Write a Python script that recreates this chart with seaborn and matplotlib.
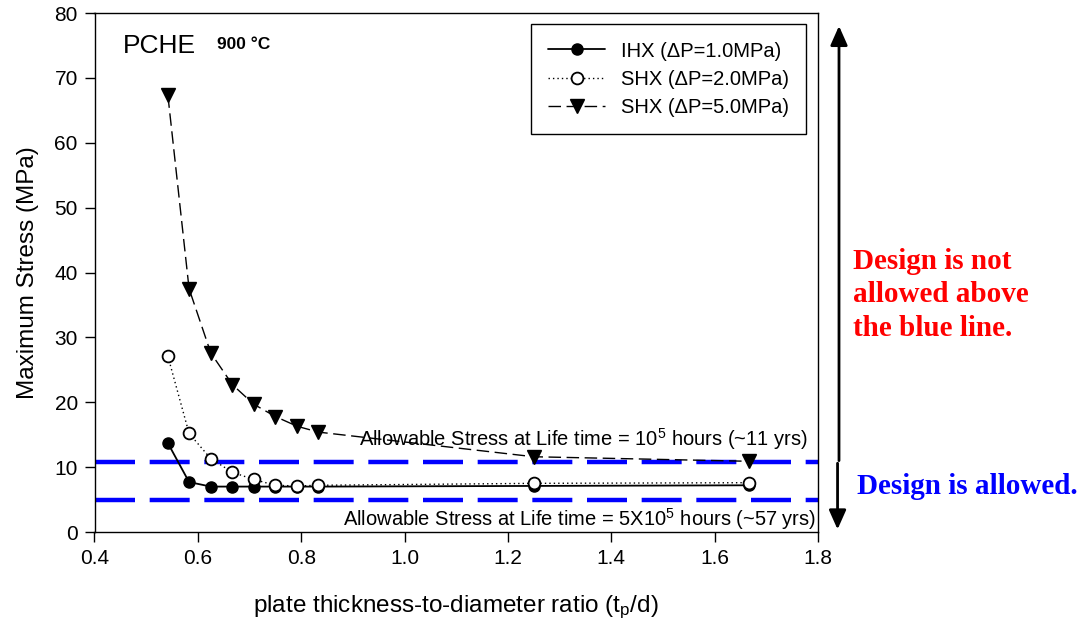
import matplotlib
matplotlib.use("Agg")
import matplotlib.pyplot as plt
import seaborn as sns

# ---- data ----
ratio = [0.542, 0.583, 0.625, 0.667, 0.708, 0.750, 0.792, 0.833, 1.250, 1.667]
ihx_1MPa = [13.7, 7.7, 7.0, 7.0, 7.0, 7.0, 7.0, 7.0, 7.1, 7.2]
shx_2MPa = [27.1, 15.2, 11.3, 9.2, 8.1, 7.2, 7.1, 7.2, 7.5, 7.6]
shx_5MPa = [67.3, 37.5, 27.6, 22.7, 19.7, 17.8, 16.3, 15.4, 11.6, 10.9]
allow_1e5 = 10.8
allow_5e5 = 4.9
labels = ["IHX (\u0394P=1.0MPa)", "SHX (\u0394P=2.0MPa)", "SHX (\u0394P=5.0MPa)"]
xticks = [0.4, 0.6, 0.8, 1.0, 1.2, 1.4, 1.6, 1.8]
yticks = [0, 10, 20, 30, 40, 50, 60, 70, 80]

sns.set_style("ticks")
plt.rcParams["font.family"] = ["Liberation Sans", "DejaVu Sans"]
plt.rcParams["text.color"] = "black"
plt.rcParams["axes.labelcolor"] = "black"
plt.rcParams["xtick.color"] = "black"
plt.rcParams["ytick.color"] = "black"
plt.rcParams["mathtext.fontset"] = "custom"
plt.rcParams["mathtext.rm"] = "Liberation Sans"
plt.rcParams["mathtext.it"] = "Liberation Sans:italic"
plt.rcParams["mathtext.bf"] = "Liberation Sans:bold"

fig = plt.figure(figsize=(10.9, 6.26), dpi=100)
ax = fig.add_axes([94.5 / 1090, 1 - 532 / 626, (818 - 94.5) / 1090, (532 - 13) / 626])

sns.lineplot(x=ratio, y=ihx_1MPa, ax=ax, color="black", linestyle="-", lw=1.3,
             marker="o", markersize=8, markerfacecolor="black",
             markeredgecolor="black", markeredgewidth=1, label=labels[0], zorder=3)
sns.lineplot(x=ratio, y=shx_2MPa, ax=ax, color="black", linestyle=(0, (1, 2.2)), lw=1.0,
             marker="o", markersize=8.5, markerfacecolor="white",
             markeredgecolor="black", markeredgewidth=1.3, label=labels[1], zorder=4)
sns.lineplot(x=ratio, y=shx_5MPa, ax=ax, color="black", linestyle=(0, (9, 4)), lw=1.0,
             marker="v", markersize=10, markerfacecolor="black",
             markeredgecolor="black", markeredgewidth=1, label=labels[2], zorder=5)

for yv in (allow_1e5, allow_5e5):
    ax.axhline(yv, color="#0000ff", lw=3.2, linestyle=(0, (9, 3.3)), zorder=2)

ax.set_xlim(0.4, 1.8)
ax.set_ylim(0, 80)
ax.set_xticks(xticks)
ax.set_xticklabels([f"{t:.1f}" for t in xticks])
ax.set_yticks(yticks)
ax.tick_params(axis="both", direction="out", length=7, width=1, labelsize=15,
               colors="black", pad=5)
for s in ax.spines.values():
    s.set_visible(True)
    s.set_color("black")
    s.set_linewidth(1.0)

ax.set_xlabel("plate thickness-to-diameter ratio ($\\mathregular{t_p}$/d)", fontsize=17.5, labelpad=19)
ax.set_ylabel("Maximum Stress (MPa)", fontsize=17.5, labelpad=11)

leg = ax.legend(loc="upper right", bbox_to_anchor=(0.983, 0.978), fontsize=14.5,
                frameon=True, fancybox=False, edgecolor="black", framealpha=1,
                handlelength=2.85, handletextpad=0.75, borderpad=0.85, labelspacing=0.45,
                borderaxespad=0)
leg.get_frame().set_linewidth(1.0)

ax.text(0.454, 73.9, "PCHE", fontsize=19, ha="left", va="baseline")
ax.text(0.638, 74.4, "900 \u00b0C", fontsize=12.5, fontweight="bold", ha="left", va="baseline")

ax.text(1.781, 14.3, "Allowable Stress at Life time = $\\mathregular{10^5}$ hours (~11 yrs)",
        fontsize=14.5, ha="right", va="center", zorder=6)
ax.text(1.797, 2.0, "Allowable Stress at Life time = 5X$\\mathregular{10^5}$ hours (~57 yrs)",
        fontsize=14.5, ha="right", va="center", zorder=6)

# right side arrows & notes
xa = (839 - 94.5) / (818 - 94.5)
arrow_style = "-|>,head_width=0.2,head_length=0.45"
ax.annotate("", xy=(xa, 78.0), xytext=(xa, 11.0),
            xycoords=("axes fraction", "data"), textcoords=("axes fraction", "data"),
            arrowprops=dict(arrowstyle=arrow_style, mutation_scale=26,
                            lw=2, color="black", shrinkA=0, shrinkB=0), annotation_clip=False)
ax.annotate("", xy=(xa - 0.002, 0.4), xytext=(xa - 0.002, 10.6),
            xycoords=("axes fraction", "data"), textcoords=("axes fraction", "data"),
            arrowprops=dict(arrowstyle=arrow_style, mutation_scale=26,
                            lw=2, color="black", shrinkA=0, shrinkB=0), annotation_clip=False)

fig.text(853 / 1090, 1 - 295 / 626, "Design is not\nallowed above\nthe blue line.",
         fontsize=21, fontweight="bold", color="#ff0000", family="Liberation Serif",
         ha="left", va="center", linespacing=1.3)
fig.text(857 / 1090, 1 - 487 / 626, "Design is allowed.",
         fontsize=21, fontweight="bold", color="#0000ff", family="Liberation Serif",
         ha="left", va="center")

fig.savefig("out.png", dpi=100, facecolor="white")
